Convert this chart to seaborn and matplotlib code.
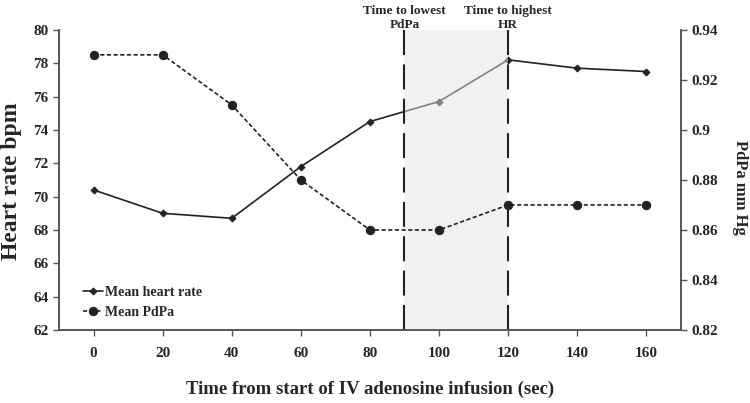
import pandas as pd
import matplotlib.pyplot as plt
import seaborn as sns

# Data
time_sec = [0, 20, 40, 60, 80, 100, 120, 140, 160]
heart_rate = [70.4, 69.0, 68.7, 71.8, 74.5, 75.7, 78.2, 77.7, 77.5]
pdpa = [0.93, 0.93, 0.91, 0.88, 0.86, 0.86, 0.87, 0.87, 0.87]
lowest_pdpa_time = 90
highest_hr_time = 120

df = pd.DataFrame({'time': time_sec, 'hr': heart_rate, 'pdpa': pdpa})

sns.set_style("ticks")
plt.rcParams['font.family'] = ['Liberation Serif', 'DejaVu Serif']
plt.rcParams['font.weight'] = 'bold'

fig = plt.figure(figsize=(7.5, 4.03), dpi=100)
ax = fig.add_axes([0.0787, 0.181, 0.829, 0.745])
ax2 = ax.twinx()

sns.lineplot(data=df, x='time', y='hr', ax=ax, color='#222222', lw=1.2,
             marker='D', markersize=3.5, markeredgecolor='#222222',
             label='Mean heart rate', legend=False)
sns.lineplot(data=df, x='time', y='pdpa', ax=ax2, color='#222222', lw=1.2,
             linestyle=(0, (2.5, 1.5)), marker='o', markersize=6,
             markeredgecolor='#222222', label='Mean PdPa', legend=False)

# shaded window between the two event times (drawn over the HR line)
ax.axvspan(lowest_pdpa_time, highest_hr_time, color='#e4e4e4', alpha=0.5,
           lw=0, zorder=3)
for t in [lowest_pdpa_time, highest_hr_time]:
    ax.axvline(t, color='#222222', lw=1.5, dashes=(12, 4.5), zorder=4)

ax.set_xlim(-10, 170)
ax.set_ylim(62, 80)
ax.set_yticks(range(62, 81, 2))
ax.set_xticks(time_sec)
ax2.set_ylim(0.82, 0.94)
ax2.set_yticks([0.82, 0.84, 0.86, 0.88, 0.90, 0.92, 0.94])
ax2.set_yticklabels(['0.82', '0.84', '0.86', '0.88', '0.9', '0.92', '0.94'])

for a in [ax, ax2]:
    a.spines['top'].set_visible(False)
    for s in ['left', 'right', 'bottom']:
        a.spines[s].set_color('#555555')
        a.spines[s].set_linewidth(1.2)
    a.tick_params(labelsize=11, color='#555555', length=4, width=1)
    for lab in a.get_xticklabels() + a.get_yticklabels():
        lab.set_fontweight('bold')
ax.tick_params(axis='x', pad=8)
ax.set_xlabel('')
ax.set_ylabel('')
ax2.set_ylabel('')

fig.text(370 / 750, 1 - 389 / 403, 'Time from start of IV adenosine infusion (sec)',
         ha='center', va='center', fontsize=13.5, fontweight='bold')
fig.text(12 / 750, 1 - 181 / 403, 'Heart rate bpm', rotation=90,
         ha='center', va='center', fontsize=17, fontweight='bold')
fig.text(740 / 750, 1 - 187 / 403, 'PdPa mm Hg', rotation=270,
         ha='center', va='center', fontsize=12, fontweight='bold')

ax.text(lowest_pdpa_time, 0.997, 'Time to lowest\nPdPa', transform=ax.get_xaxis_transform(),
        ha='center', va='bottom', fontsize=9.5, fontweight='bold', linespacing=1.2)
ax.text(highest_hr_time, 0.997, 'Time to highest\nHR', transform=ax.get_xaxis_transform(),
        ha='center', va='bottom', fontsize=9.5, fontweight='bold', linespacing=1.2)

h1, l1 = ax.get_legend_handles_labels()
h2, l2 = ax2.get_legend_handles_labels()
ax2.legend(h1 + h2, l1 + l2, loc='lower left', bbox_to_anchor=(0.03, 0.018),
           frameon=False, prop={'size': 10, 'weight': 'bold'},
           handlelength=1.4, handletextpad=0.15, labelspacing=0.5,
           borderaxespad=0)

fig.savefig('out.png', dpi=100)
